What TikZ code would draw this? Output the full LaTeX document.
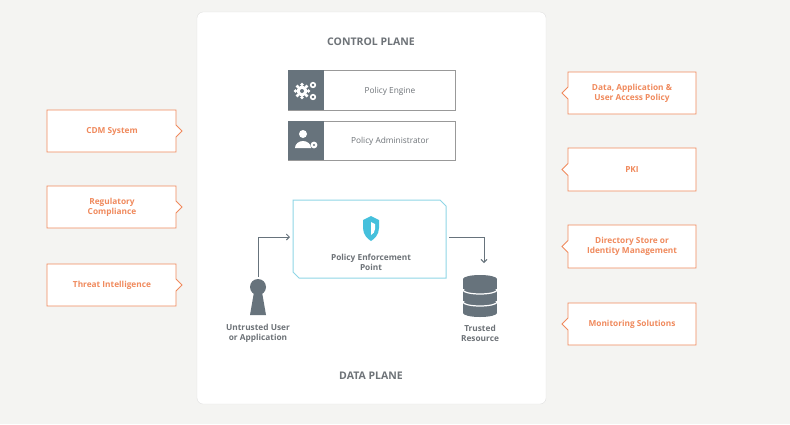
\documentclass[tikz,border=0pt]{standalone}
\usepackage{fontspec}
\usetikzlibrary{arrows.meta}
\setmainfont{Open Sans}
\begin{document}
\definecolor{bg}{HTML}{F4F4F2}
\definecolor{org}{HTML}{F08A5D}
\definecolor{slate}{HTML}{67737C}
\definecolor{txt}{HTML}{6E7378}
\definecolor{cy}{HTML}{8FD6E6}
\definecolor{cyd}{HTML}{45C0DC}
\begin{tikzpicture}[x=1pt,y=-1pt,
  otxt/.style={text=org,font=\fontsize{8.3}{10}\selectfont\bfseries,align=center},
  gtxt/.style={text=txt,font=\fontsize{8.3}{10}\selectfont\bfseries,align=center},
  ttl/.style={text=txt,font=\fontsize{10.5}{12}\selectfont\bfseries},
  obox/.style={draw=org,line width=0.9pt,fill=white},
  flow/.style={draw=slate,line width=0.9pt,-{Straight Barb[length=3pt]}}]
\fill[bg] (0,0) rectangle (790,424);
\useasboundingbox (0,0) rectangle (790,424);
\draw[draw=black!12,fill=white,rounded corners=6pt] (197,12) rectangle (546,404);
\node[ttl] (cp) at (371,42) {CONTROL PLANE};
\node[ttl] (dp) at (371,376) {DATA PLANE};
% policy engine
\draw[draw=black!40,fill=white,line width=0.8pt] (288,70) rectangle (455,110);
\fill[slate] (288,70) rectangle (324,110);
\node[gtxt,font=\fontsize{8.3}{10}\selectfont] (pe) at (390,91) {Policy Engine};
\foreach \a in {0,45,...,315}{\fill[white] (302,91) ++(\a:6.5) circle (1.8);}
\fill[white] (302,91) circle (5.5);
\fill[slate] (302,91) circle (2);
\foreach \cx/\cy in {313/85,313/97}{\draw[white,line width=1.6pt] (\cx,\cy) circle (2.3);}
% policy admin
\draw[draw=black!40,fill=white,line width=0.8pt] (288,121) rectangle (455,160);
\fill[slate] (288,121) rectangle (324,160);
\node[gtxt,font=\fontsize{8.3}{10}\selectfont] (pa) at (390,141) {Policy Administrator};
\fill[white] (303,134) circle (4);
\fill[white] (295,148) arc (180:360:8 and 7) -- cycle;
\fill[white] (314,145) circle (3.4);
\fill[slate] (314,145) circle (1.2);
% PEP
\draw[draw=cy,line width=1pt,fill=white] (293,200) -- (440,200) -- (446,206) -- (446,278) -- (299,278) -- (293,272) -- cycle;
\coordinate (pepL) at (290,237);
\coordinate (pepR) at (449,237);
\fill[cyd] (363,220) -- (371,216) -- (379,220) -- (379,228) .. controls (379,235) and (374,239) .. (371,241) .. controls (368,239) and (363,235) .. (363,228) -- cycle;
\fill[white] (371,222) -- (375,224) -- (375,229) .. controls (375,232) and (373,234) .. (371,235) -- cycle;
\node[gtxt] (pep) at (371,262) {Policy Enforcement\\Point};
% user
\fill[slate] (258,287) circle (8);
\fill[slate] (254,292) -- (262,292) -- (266,315) -- (250,315) -- cycle;
\node[gtxt] (user) at (258,333) {Untrusted User\\or Application};
\coordinate (u) at (258,277);
\draw[flow] (u) |- (pepL);
% db
\foreach \yy in {279,291,303}{\fill[slate] (463,\yy) rectangle (497,\yy+10);\fill[slate] (480,\yy) ellipse (17 and 4);}
\fill[slate] (480,313) ellipse (17 and 4);
\foreach \yy in {290,302}{\draw[white,line width=1.2pt] (463,\yy) arc (180:360:17 and -4);}
\node[gtxt] (res) at (480,333) {Trusted\\Resource};
\coordinate (r) at (484,263);
\draw[flow] (pepR) -| (r);
% left boxes
\foreach \n/\ya/\yb/\t in {cdm/110/152/CDM System, reg/186/228/{Regulatory\\Compliance}, thr/264/306/Threat Intelligence}{
  \draw[obox] (47,\ya) -- (176,\ya) -- (176,{(\ya+\yb)/2-6}) -- (182,{(\ya+\yb)/2}) -- (176,{(\ya+\yb)/2+6}) -- (176,\yb) -- (47,\yb) -- cycle;
  \node[otxt] (\n) at (112,{(\ya+\yb)/2}) {\t};}
\foreach \n/\ya/\yb/\t in {dap/72/114/{Data, Application \&\\User Access Policy}, pki/148/191/PKI, dir/225/268/{Directory Store or\\Identity Management}, mon/303/345/Monitoring Solutions}{
  \draw[obox] (696,\ya) -- (568,\ya) -- (568,{(\ya+\yb)/2-6}) -- (562,{(\ya+\yb)/2}) -- (568,{(\ya+\yb)/2+6}) -- (568,\yb) -- (696,\yb) -- cycle;
  \node[otxt] (\n) at (632,{(\ya+\yb)/2}) {\t};}
\end{tikzpicture}
\end{document}
